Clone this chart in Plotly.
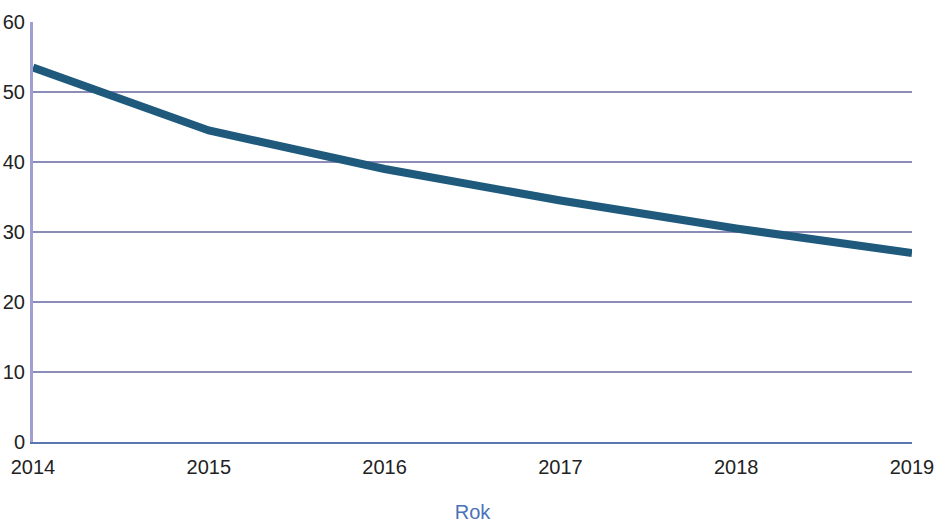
import plotly.graph_objects as go

years = [2014, 2015, 2016, 2017, 2018, 2019]
values = [53.5, 44.5, 39, 34.5, 30.5, 27]
y_ticks = [0, 10, 20, 30, 40, 50, 60]
x_title = "Rok"

fig = go.Figure()
fig.add_trace(go.Scatter(
    x=years, y=values, mode="lines",
    line=dict(color="#1f5a7c", width=8),
    showlegend=False, hoverinfo="skip",
))

fig.update_layout(
    width=934, height=526,
    margin=dict(l=33, r=22, t=22, b=84),
    paper_bgcolor="white", plot_bgcolor="white",
    font=dict(family="Liberation Sans, Arial, sans-serif", size=20, color="#222222"),
    xaxis=dict(
        range=[2014, 2019], tickvals=years, ticktext=[str(y) for y in years],
        showgrid=False, zeroline=False, automargin=False,
        ticklabeloverflow="allow",
        showline=True, linecolor="#5a78b0", linewidth=2,
        ticks="", ticklabelstandoff=6,
        title=dict(text=x_title, font=dict(color="#4a72b8", size=20), standoff=28),
    ),
    yaxis=dict(
        range=[0, 60], tickvals=y_ticks, automargin=False,
        ticklabeloverflow="allow",
        showgrid=True, gridcolor="#8c8cb8", gridwidth=2,
        zeroline=False,
        showline=True, linecolor="#a0a0d0", linewidth=3,
        ticks="", ticklabelstandoff=1,
    ),
)

fig.write_html("out.html", config={"displayModeBar": False},
               post_script="document.body.style.margin='0';")
